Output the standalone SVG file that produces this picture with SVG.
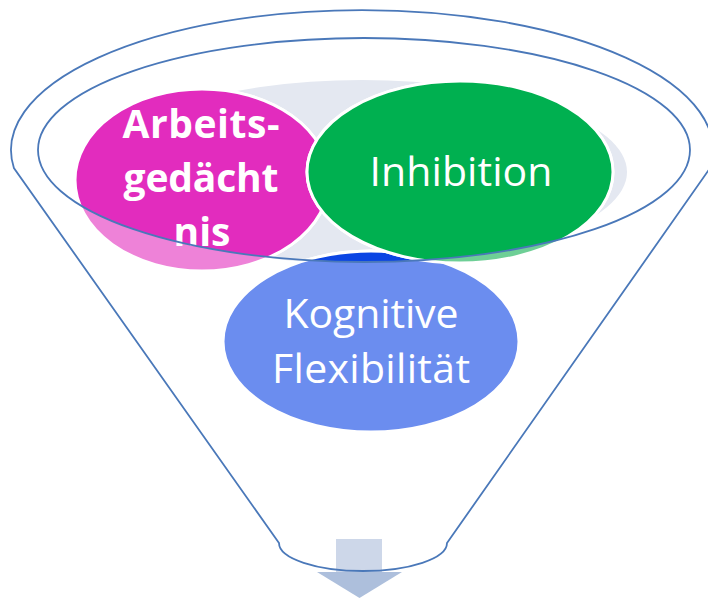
<svg xmlns="http://www.w3.org/2000/svg" width="708" height="598" viewBox="0 0 708 598">
  <defs>
    <clipPath id="inside">
      <ellipse cx="364" cy="150" rx="326" ry="112"/>
    </clipPath>
    <style>
      .outline { fill: none; stroke: #4a78b9; stroke-width: 1.8; }
      .ring { stroke: #ffffff; stroke-width: 3; }
      .lbl { fill: #ffffff; font-family: "Open Sans", "Noto Sans", "Liberation Sans", sans-serif; text-anchor: middle; }
      .bold { font-weight: bold; font-size: 39px; }
      .reg { font-size: 41px; }
    </style>
  </defs>
  <rect x="0" y="0" width="708" height="598" fill="#ffffff"/>

  <g id="backdrop">
    <ellipse cx="362" cy="172" rx="265" ry="92" fill="#e4e8f1"/>
  </g>

  <g id="node-arbeitsgedaechtnis">
    <ellipse class="ring" cx="202" cy="180" rx="127" ry="91" fill="#ee82d8"/>
    <ellipse class="ring" cx="202" cy="180" rx="127" ry="91" fill="#e22cbe" clip-path="url(#inside)"/>
    <text class="lbl bold" x="201" y="138" textLength="157">Arbeits-</text>
    <text class="lbl bold" x="201" y="192" textLength="155">gedächt</text>
    <text class="lbl bold" x="202" y="246">nis</text>
  </g>

  <g id="node-kognitive-flexibilitaet">
    <ellipse class="ring" cx="371" cy="341.5" rx="148" ry="90.5" fill="#6b8def"/>
    <ellipse class="ring" cx="371" cy="341.5" rx="148" ry="90.5" fill="#0b45e3" clip-path="url(#inside)"/>
    <text class="lbl reg" x="371" y="328" textLength="175">Kognitive</text>
    <text class="lbl reg" x="371" y="383" textLength="198">Flexibilität</text>
  </g>

  <g id="node-inhibition">
    <ellipse class="ring" cx="460" cy="172" rx="153" ry="91" fill="#6ecf96"/>
    <ellipse class="ring" cx="460" cy="172" rx="153" ry="91" fill="#00b050" clip-path="url(#inside)"/>
    <text class="lbl reg" x="461" y="186" font-size="42" textLength="183">Inhibition</text>
  </g>

  <g id="arrow">
    <rect x="336" y="539" width="46" height="33" fill="#cdd7e9"/>
    <polygon points="317,572 402,572 359.5,598" fill="#adbfdc"/>
  </g>

  <g id="funnel">
    <path class="outline" d="M13.9,168 A351,140 0 1 1 710.1,168 L447,543 A84,28 0 0 1 279,543 Z"/>
    <ellipse class="outline" cx="364" cy="150" rx="326" ry="112"/>
  </g>
</svg>
